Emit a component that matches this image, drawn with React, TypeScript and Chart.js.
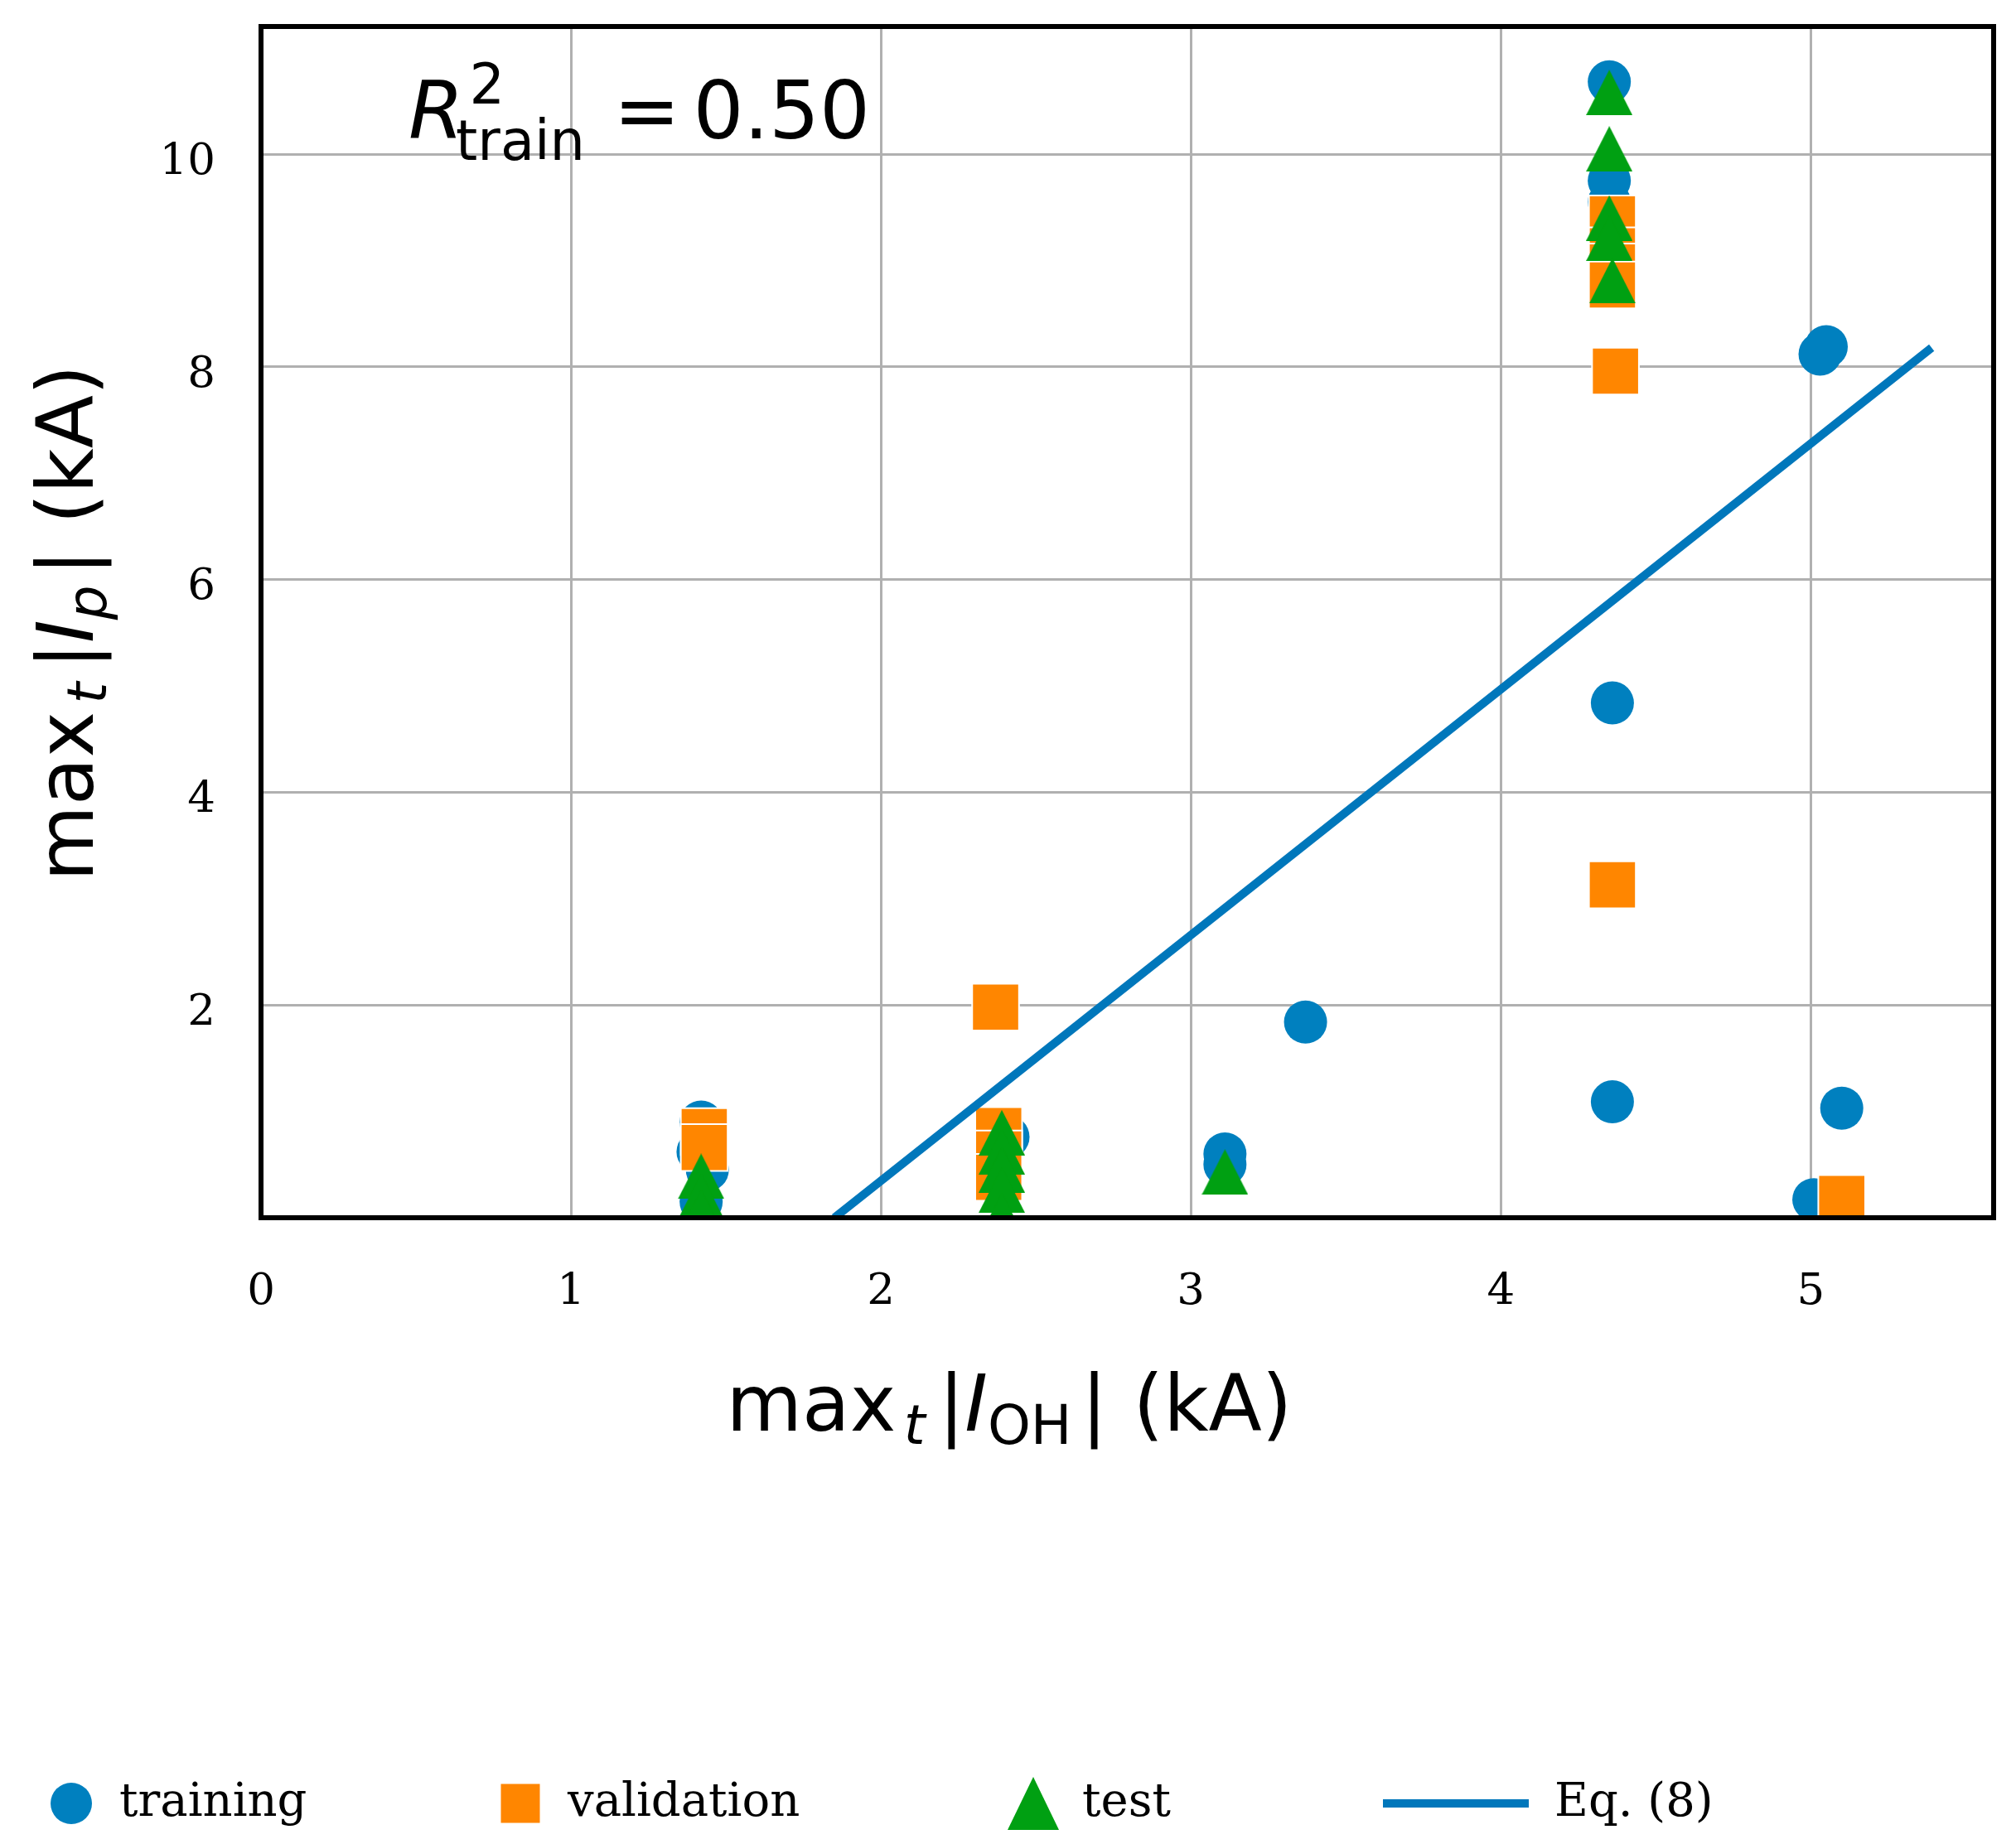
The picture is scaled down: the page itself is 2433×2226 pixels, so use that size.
import { useEffect, useRef } from "react";
import { Chart, registerables } from "chart.js";

Chart.register(...registerables);

// data
const trainX = [1.42, 1.41, 1.44, 1.42, 2.41, 3.11, 3.11, 3.37, 4.35, 4.35, 4.35, 4.36, 4.36, 5.05, 5.03, 5.1, 5.01];
const trainY = [0.9, 0.62, 0.45, 0.15, 0.76, 0.6, 0.5, 1.84, 10.68, 9.75, 9.55, 4.84, 1.09, 8.19, 8.12, 1.03, 0.17];

const valX = [1.43, 1.43, 2.37, 2.38, 2.38, 2.38, 4.36, 4.36, 4.36, 4.36, 4.37, 4.36, 5.1];
const valY = [0.81, 0.66, 1.98, 0.82, 0.6, 0.38, 9.39, 9.09, 8.94, 8.77, 7.96, 3.13, 0.18];

const testX = [1.42, 1.42, 1.42, 2.39, 2.39, 2.39, 2.39, 2.39, 3.11, 4.35, 4.35, 4.35, 4.35, 4.36];
const testY = [0.39, 0.2, 0.05, 0.8, 0.62, 0.45, 0.26, 0.02, 0.43, 10.58, 10.05, 9.4, 9.21, 8.81];

const eqX = [1.85, 5.39];
const eqY = [0, 8.18];

const xTicks = [0, 1, 2, 3, 4, 5];
const yTicks = [2, 4, 6, 8, 10];

const legendLabels = ["training", "validation", "test", "Eq. (8)"];

const BLUE = "#0080bf";
const LINE_BLUE = "#0077bb";
const ORANGE = "#ff8600";
const GREEN = "#00a012";
const GRID = "#b0b0b0";

const SANS = "'DejaVu Sans'";
const SERIF = "'DejaVu Serif'";

type Run = { text: string; italic?: boolean; scale?: number; dy?: number; gap?: number; noAdvance?: boolean };

const pts = (xs: number[], ys: number[]) => xs.map((x, i) => ({ x, y: ys[i] }));

function runFont(r: Run, size: number) {
  return `${r.italic ? "italic " : ""}${Math.round(size * (r.scale ?? 1))}px ${SANS}`;
}

function runsWidth(ctx: CanvasRenderingContext2D, runs: Run[], size: number) {
  let w = 0;
  for (const r of runs) {
    ctx.font = runFont(r, size);
    w += (r.gap ?? 0) * size;
    if (!r.noAdvance) w += ctx.measureText(r.text).width;
  }
  return w;
}

function drawRuns(ctx: CanvasRenderingContext2D, runs: Run[], size: number, x: number, y: number) {
  let cx = x;
  for (const r of runs) {
    ctx.font = runFont(r, size);
    const sx = cx + (r.gap ?? 0) * size;
    ctx.fillText(r.text, sx, y + (r.dy ?? 0) * size);
    if (!r.noAdvance) cx = sx + ctx.measureText(r.text).width;
  }
}

const xTitle: Run[] = [
  { text: "max" },
  { text: "t", italic: true, scale: 0.7, dy: 0.17, gap: 0.1 },
  { text: "|", gap: 0.17 },
  { text: "I", italic: true },
  { text: "OH", scale: 0.7, dy: 0.17 },
  { text: "|", gap: 0.12 },
  { text: "(kA)", gap: 0.33 },
];

const yTitle: Run[] = [
  { text: "max" },
  { text: "t", italic: true, scale: 0.7, dy: 0.17, gap: 0.1 },
  { text: "|", gap: 0.17 },
  { text: "I", italic: true },
  { text: "p", italic: true, scale: 0.7, dy: 0.17 },
  { text: "|", gap: 0.12 },
  { text: "(kA)", gap: 0.33 },
];

const r2Text: Run[] = [
  { text: "R", italic: true },
  { text: "2", scale: 0.7, dy: -0.44, gap: 0.07, noAdvance: true },
  { text: "train", scale: 0.7, dy: 0.27, gap: -0.1 },
  { text: "=", gap: 0.36 },
  { text: "0.50", gap: 0.16 },
];

function makeTriangle(w: number, h: number, color: string) {
  const c = document.createElement("canvas");
  c.width = w;
  c.height = h;
  const g = c.getContext("2d")!;
  g.fillStyle = color;
  g.beginPath();
  g.moveTo(w / 2, 0);
  g.lineTo(w, h);
  g.lineTo(0, h);
  g.closePath();
  g.fill();
  return c;
}

const decorPlugin = {
  id: "decor",
  afterDatasetsDraw(chart: Chart) {
    const { ctx, chartArea } = chart;
    ctx.save();
    ctx.strokeStyle = "#000";
    ctx.lineWidth = 6;
    ctx.strokeRect(chartArea.left, chartArea.top, chartArea.right - chartArea.left, chartArea.bottom - chartArea.top);
    ctx.restore();
  },
  afterDraw(chart: Chart) {
    const { ctx, chartArea } = chart;
    ctx.save();
    ctx.fillStyle = "#000";
    ctx.textBaseline = "alphabetic";
    ctx.textAlign = "left";

    // R^2 annotation
    drawRuns(ctx, r2Text, 96, chartArea.left + 178, chartArea.top + 135);

    // x axis title
    const xw = runsWidth(ctx, xTitle, 94);
    drawRuns(ctx, xTitle, 94, 1218 - xw / 2, 1727);

    // y axis title
    const yw = runsWidth(ctx, yTitle, 94);
    ctx.save();
    ctx.translate(112, 752);
    ctx.rotate(-Math.PI / 2);
    drawRuns(ctx, yTitle, 94, -yw / 2, 0);
    ctx.restore();

    // legend
    const cy = 2177;
    ctx.fillStyle = BLUE;
    ctx.beginPath();
    ctx.arc(86, cy, 25, 0, Math.PI * 2);
    ctx.fill();
    ctx.fillStyle = ORANGE;
    ctx.fillRect(628 - 23.5, cy - 23.5, 47, 47);
    ctx.fillStyle = GREEN;
    ctx.beginPath();
    ctx.moveTo(1247, cy - 32);
    ctx.lineTo(1278, cy + 32);
    ctx.lineTo(1216, cy + 32);
    ctx.closePath();
    ctx.fill();
    ctx.strokeStyle = LINE_BLUE;
    ctx.lineWidth = 10;
    ctx.beginPath();
    ctx.moveTo(1669, cy);
    ctx.lineTo(1845, cy);
    ctx.stroke();

    ctx.fillStyle = "#000";
    ctx.font = `56px ${SERIF}`;
    const textX = [144, 685, 1306, 1876];
    legendLabels.forEach((t, i) => ctx.fillText(t, textX[i], 2192));
    ctx.restore();
  },
};

const tickFont = { family: "DejaVu Serif", size: 53 };

export default function App() {
  const canvasRef = useRef<HTMLCanvasElement>(null);

  useEffect(() => {
    document.body.style.margin = "0";
    if (!canvasRef.current) return;

    const triangle = makeTriangle(56, 55, GREEN);

    const chart = new Chart(canvasRef.current, {
      type: "scatter",
      data: {
        datasets: [
          {
            label: legendLabels[3],
            data: pts(eqX, eqY),
            showLine: true,
            borderColor: LINE_BLUE,
            borderWidth: 10,
            borderCapStyle: "butt",
            pointRadius: 0,
            order: 0,
            clip: 0,
          },
          {
            label: legendLabels[2],
            data: pts(testX, testY),
            pointStyle: triangle,
            pointRadius: 27,
            backgroundColor: GREEN,
            borderWidth: 0,
            order: 1,
            clip: 0,
          },
          {
            label: legendLabels[1],
            data: pts(valX, valY),
            pointStyle: "rect",
            pointRadius: 40,
            backgroundColor: ORANGE,
            borderColor: "#ffffff",
            borderWidth: 2,
            order: 2,
            clip: 0,
          },
          {
            label: legendLabels[0],
            data: pts(trainX, trainY),
            pointStyle: "circle",
            pointRadius: 26,
            backgroundColor: BLUE,
            borderWidth: 0,
            order: 3,
            clip: 0,
          },
        ],
      },
      options: {
        animation: false,
        responsive: true,
        maintainAspectRatio: false,
        layout: { autoPadding: false, padding: { top: 32, right: 27, bottom: 0, left: 0 } },
        plugins: {
          legend: { display: false },
          tooltip: { enabled: false },
        },
        scales: {
          x: {
            type: "linear",
            min: 0,
            max: 5.59,
            afterBuildTicks: (scale: any) => {
              scale.ticks = xTicks.map((v) => ({ value: v }));
            },
            afterFit: (scale: any) => {
              scale.height = 756;
              scale.paddingLeft = 0;
              scale.paddingRight = 0;
            },
            grid: { color: GRID, lineWidth: 3, drawTicks: false },
            border: { display: false },
            ticks: {
              font: tickFont,
              color: "#000",
              padding: 58,
              maxRotation: 0,
              autoSkip: false,
              callback: (v: any) => String(v),
            },
          },
          y: {
            type: "linear",
            min: 0,
            max: 11.2,
            afterBuildTicks: (scale: any) => {
              scale.ticks = yTicks.map((v) => ({ value: v }));
            },
            afterFit: (scale: any) => {
              scale.width = 315;
              scale.paddingTop = 0;
              scale.paddingBottom = 0;
            },
            grid: { color: GRID, lineWidth: 3, drawTicks: false },
            border: { display: false },
            ticks: {
              font: tickFont,
              color: "#000",
              padding: 55,
              labelOffset: 10,
              autoSkip: false,
              callback: (v: any) => String(v),
            },
          },
        },
      },
      plugins: [decorPlugin],
    });

    return () => {
      chart.destroy();
    };
  }, []);

  return (
    <div style={{ width: "2433px", height: "2226px", overflow: "hidden" }}>
      <canvas ref={canvasRef} />
    </div>
  );
}
